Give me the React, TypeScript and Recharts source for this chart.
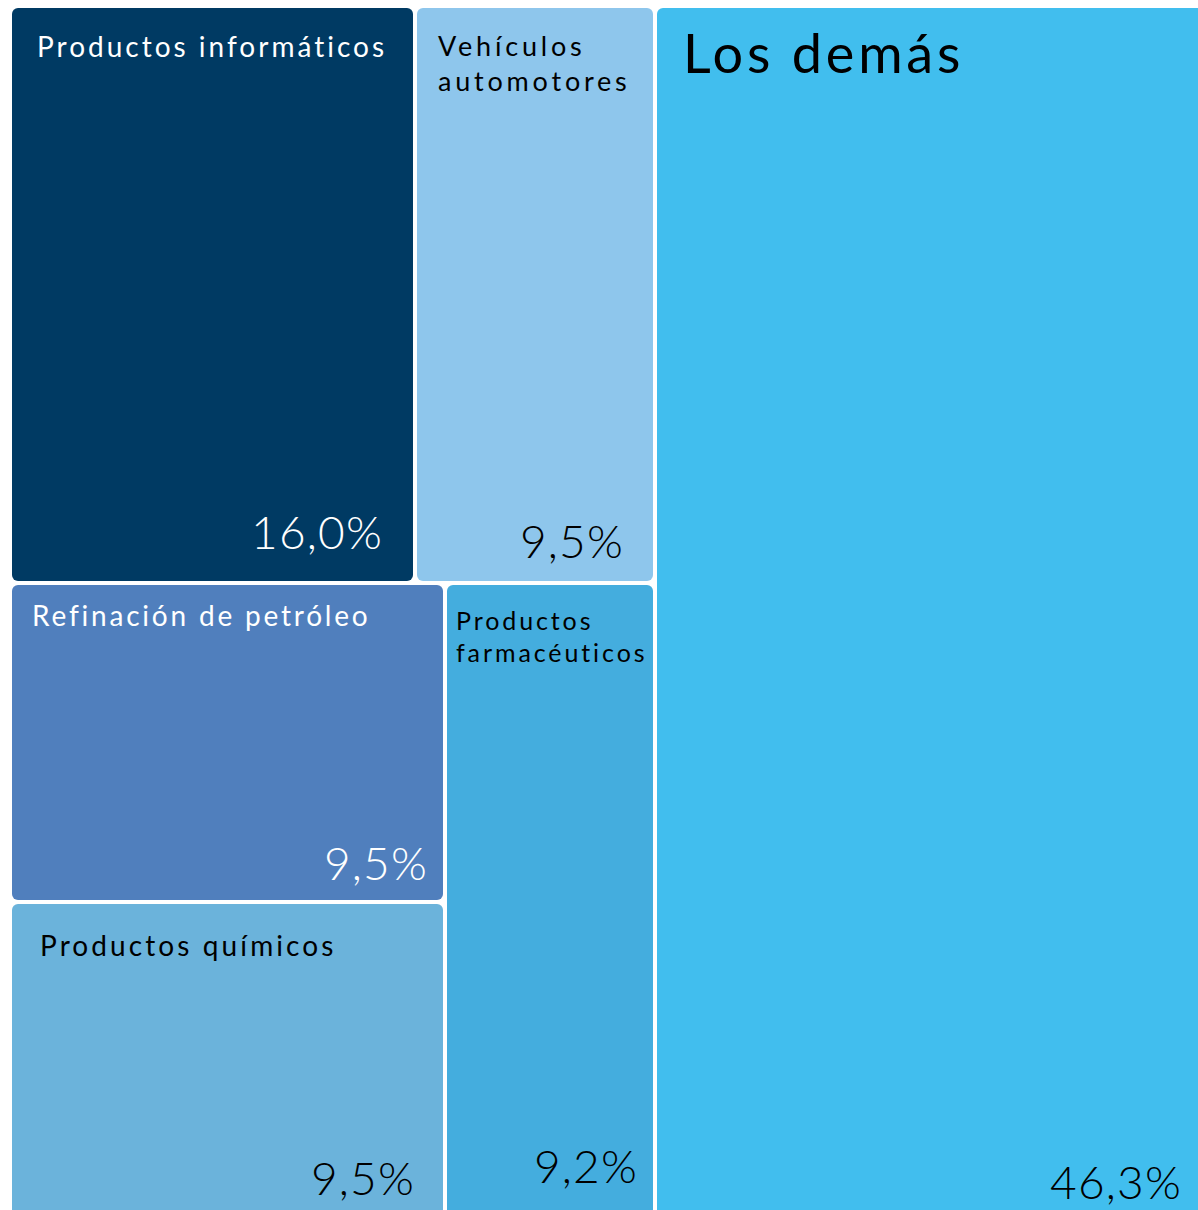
import { Treemap } from "recharts"

// Participación por rama (%)
const categories = [
  "Productos informáticos",
  "Vehículos automotores",
  "Refinación de petróleo",
  "Productos químicos",
  "Productos farmacéuticos",
  "Los demás",
]
const shares = [16.0, 9.5, 9.5, 9.5, 9.2, 46.3]

const leaf = (i: number) => ({ name: categories[i], size: shares[i] })

// grouping follows the reference layout (blocks nested left column / right block)
const data = [
  {
    name: "principales",
    children: [
      { name: "fila superior", children: [leaf(0), leaf(1)] },
      {
        name: "fila inferior",
        children: [{ name: "columna", children: [leaf(2), leaf(3)] }, leaf(4)],
      },
    ],
  },
  leaf(5),
]

const FONT = "Lato, 'Noto Sans', sans-serif"

type CellLook = {
  fill: string
  ink: string
  lines: string[]
  nameSize: number
  track: number
  nx: number
  ny: number
  lh: number
  px: number
  py: number
}

const looks: Record<string, CellLook> = {
  "Productos informáticos": { fill: "#003A63", ink: "#ffffff", lines: ["Productos informáticos"], nameSize: 28, track: 3.0, nx: 27, ny: 51, lh: 0, px: 32, py: 34 },
  "Vehículos automotores": { fill: "#8EC6EC", ink: "#000000", lines: ["Vehículos", "automotores"], nameSize: 27, track: 3.8, nx: 23, ny: 50, lh: 35, px: 31, py: 25 },
  "Refinación de petróleo": { fill: "#507FBD", ink: "#ffffff", lines: ["Refinación de petróleo"], nameSize: 28, track: 2.8, nx: 22, ny: 43, lh: 0, px: 17, py: 22 },
  "Productos químicos": { fill: "#6BB3DB", ink: "#000000", lines: ["Productos químicos"], nameSize: 28, track: 3.1, nx: 30, ny: 54, lh: 0, px: 30, py: 26 },
  "Productos farmacéuticos": { fill: "#44ADDE", ink: "#000000", lines: ["Productos", "farmacéuticos"], nameSize: 25, track: 2.9, nx: 11, ny: 47, lh: 32, px: 17, py: 38 },
  "Los demás": { fill: "#41BEEE", ink: "#000000", lines: ["Los demás"], nameSize: 54, track: 3.8, nx: 28, ny: 67, lh: 0, px: 29, py: 22 },
}

function Block(props: any) {
  const { x, y, width, height, name, value, children } = props
  if (children && children.length) return null
  const look = looks[name]
  if (!look || width <= 0 || height <= 0) return null
  return (
    <g>
      <rect
        x={x + 2}
        y={y + 2}
        width={width - 4}
        height={height - 4}
        rx={6}
        ry={6}
        fill={look.fill}
        stroke="none"
      />
      <text
        x={x + look.nx}
        y={y + look.ny}
        fill={look.ink}
        stroke="none"
        fontSize={look.nameSize}
        fontFamily={FONT}
        letterSpacing={look.track}
      >
        {look.lines.map((l, i) => (
          <tspan key={i} x={x + look.nx} dy={i ? look.lh : 0}>
            {l}
          </tspan>
        ))}
      </text>
      <text
        x={x + width - look.px}
        y={y + height - look.py}
        textAnchor="end"
        fill={look.ink}
        stroke="none"
        fontSize={46}
        fontWeight={300}
        fontFamily={FONT}
        letterSpacing={1.2}
      >
        {value.toFixed(1).replace(".", ",")}%
      </text>
    </g>
  )
}

export default function App() {
  return (
    <div
      style={{
        position: "fixed",
        left: 0,
        top: 0,
        width: 1198,
        height: 1210,
        overflow: "hidden",
        background: "#ffffff",
      }}
    >
      <div style={{ position: "absolute", left: 10, top: 6 }}>
        <Treemap
          width={1201}
          height={1215}
          data={data}
          dataKey="size"
          aspectRatio={1.25}
          content={(p: any) => <Block {...p} />}
          isAnimationActive={false}
        />
      </div>
    </div>
  )
}
